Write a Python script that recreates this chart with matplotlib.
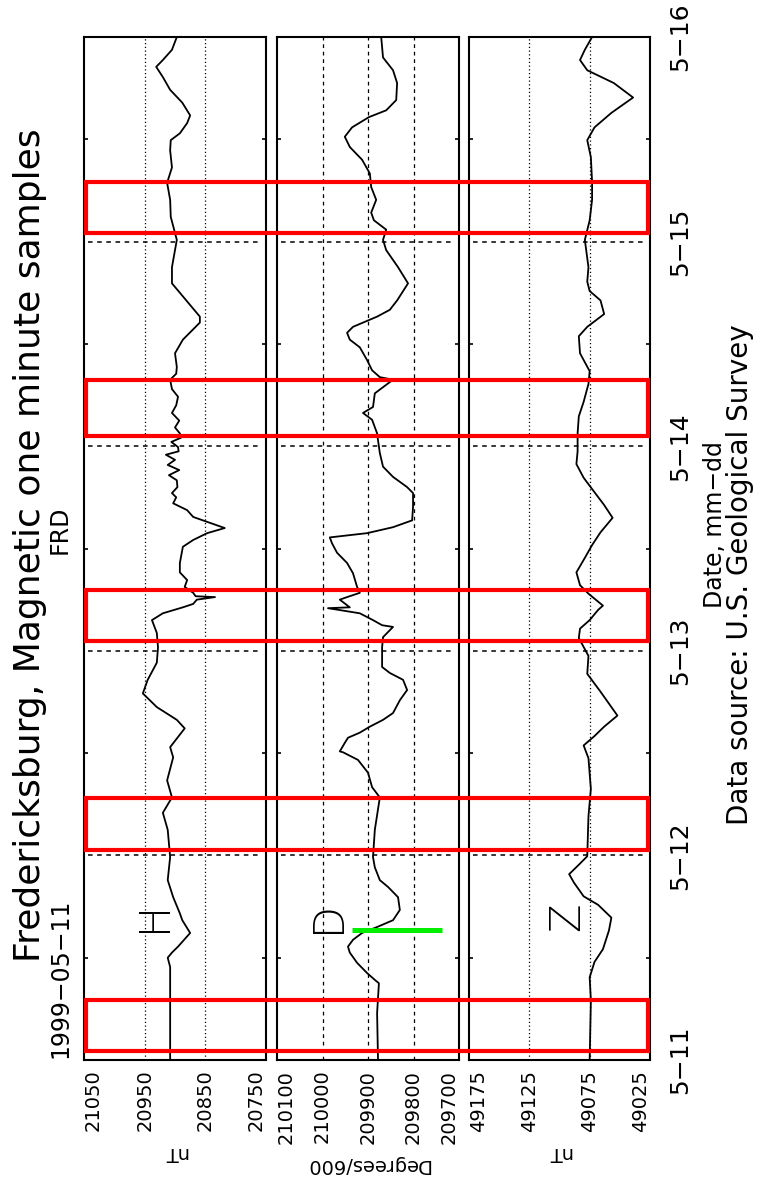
import matplotlib
matplotlib.use("Agg")
import matplotlib.pyplot as plt
from matplotlib.patches import Rectangle
from matplotlib.transforms import blended_transform_factory

# ---------------- data: hours after 1999-05-11 00:00 UT ----------------
h_hours = [0, 7.0, 10.9, 12.0, 12.6, 13.3, 14.9, 16.4, 17.2, 19.1,
           21.1, 23.8, 27.0, 29.0, 30.8, 32.8, 35.5, 36.7, 38.9, 39.9,
           41.4, 43.0, 44.6, 46.6, 48.4, 50.1, 51.6, 52.4, 53.1, 53.5,
           54.0, 54.3, 54.4, 54.8, 55.2, 55.5, 56.3, 57.2, 58.3, 60.2,
           61.0, 61.8, 62.4, 63.0, 63.7, 64.5, 65.3, 66.0, 66.5, 67.2,
           68.0, 68.6, 69.2, 69.8, 70.4, 71.0, 71.4, 71.9, 72.5, 73.0,
           73.5, 74.2, 75.0, 75.9, 76.8, 77.8, 78.7, 79.8, 80.5, 81.3,
           82.9, 84.5, 86.5, 87.2, 88.3, 90.0, 91.1, 93.0, 96.2, 98.9,
           100.9, 102.9, 104.7, 106.7, 107.9, 108.7, 109.9, 110.8, 112.3, 113.8,
           115.3, 116.5, 117.3, 118.5, 120]
h_nt = [20908, 20908, 20908, 20912, 20905, 20895, 20875, 20888, 20892, 20903,
        20912, 20908, 20912, 20920, 20905, 20913, 20903, 20908, 20884, 20897,
        20930, 20953, 20945, 20930, 20928, 20930, 20938, 20920, 20887, 20870,
        20864, 20834, 20866, 20870, 20878, 20884, 20880, 20892, 20892, 20887,
        20870, 20847, 20818, 20842, 20870, 20880, 20903, 20898, 20905, 20896,
        20897, 20910, 20893, 20912, 20900, 20915, 20894, 20895, 20906, 20890,
        20892, 20900, 20893, 20905, 20898, 20895, 20905, 20908, 20898, 20897,
        20900, 20887, 20859, 20859, 20872, 20892, 20905, 20905, 20897, 20907,
        20908, 20913, 20905, 20908, 20907, 20892, 20880, 20875, 20888, 20908,
        20920, 20931, 20920, 20905, 20897]

d_hours = [0, 5.5, 9.0, 9.4, 10.2, 11.4, 12.6, 13.3, 14.1, 14.9,
           15.6, 16.4, 17.6, 19.1, 20.3, 21.1, 22.6, 23.8, 27.0, 30.8,
           32.0, 33.7, 35.2, 36.1, 36.2, 37.2, 37.8, 38.4, 39.1, 39.9,
           40.7, 42.2, 43.4, 44.6, 45.4, 46.1, 48.4, 49.6, 50.8, 51.0,
           51.6, 52.4, 53.0, 53.1, 54.0, 54.3, 54.8, 55.5, 57.1, 58.3,
           59.5, 60.6, 61.3, 61.8, 62.5, 63.3, 64.9, 66.5, 67.2, 68.4,
           69.6, 71.2, 72.7, 73.5, 75.1, 75.9, 76.6, 78.2, 79.8, 80.1,
           80.9, 82.1, 83.6, 84.5, 85.3, 86.0, 87.2, 88.0, 89.1, 91.1,
           93.0, 95.0, 96.2, 97.4, 98.5, 99.4, 100.9, 102.4, 104.0, 105.6,
           107.1, 108.3, 109.4, 110.6, 111.4, 112.6, 114.6, 116.1, 117.6, 120]
d_deg600 = [209878, 209880, 209876, 209885, 209902, 209924, 209940, 209944, 209933, 209913,
            209880, 209845, 209830, 209834, 209856, 209874, 209885, 209889, 209885, 209874,
            209891, 209900, 209922, 209955, 209962, 209951, 209944, 209918, 209896, 209867,
            209845, 209830, 209814, 209823, 209852, 209869, 209869, 209867, 209845, 209869,
            209889, 209918, 209988, 209940, 209962, 209946, 209918, 209924, 209933, 209946,
            209968, 209979, 209984, 209902, 209845, 209803, 209801, 209801, 209814, 209845,
            209867, 209874, 209878, 209880, 209891, 209911, 209889, 209885, 209845, 209874,
            209891, 209902, 209918, 209940, 209946, 209933, 209880, 209852, 209836, 209812,
            209834, 209860, 209867, 209860, 209887, 209893, 209882, 209893, 209896, 209913,
            209940, 209951, 209935, 209898, 209860, 209838, 209836, 209845, 209867, 209871]

z_hours = [0, 7.0, 9.7, 11.5, 13.0, 15.2, 16.7, 18.2, 19.2, 20.8,
           21.8, 22.9, 23.9, 28.6, 31.8, 35.4, 36.9, 38.0, 39.1, 40.4,
           41.6, 43.2, 45.3, 47.4, 49.5, 50.6, 51.6, 52.8, 53.3, 54.0,
           54.7, 55.7, 57.2, 58.9, 60.4, 61.9, 63.6, 65.1, 66.6, 68.3,
           69.9, 71.4, 73.5, 75.5, 77.2, 79.3, 80.8, 82.9, 84.9, 86.0,
           87.5, 89.1, 90.2, 91.3, 93.0, 96.2, 98.5, 100.9, 103.0, 105.9,
           107.9, 109.4, 111.1, 112.9, 114.6, 116.1, 117.3, 118.5, 120]
z_nt = [49075, 49074, 49075, 49071, 49064, 49059, 49057, 49068, 49080, 49088,
        49092, 49084, 49077, 49076, 49074, 49076, 49080, 49071, 49063, 49052,
        49058, 49066, 49077, 49076, 49084, 49083, 49075, 49068, 49064, 49070,
        49076, 49083, 49086, 49079, 49073, 49066, 49056, 49063, 49071, 49080,
        49086, 49085, 49085, 49084, 49080, 49076, 49075, 49083, 49084, 49077,
        49063, 49066, 49075, 49077, 49076, 49079, 49075, 49073, 49073, 49074,
        49077, 49071, 49057, 49039, 49055, 49077, 49083, 49079, 49073]

day_hours = [0, 24, 48, 72, 96, 120]
day_labels = ["5\u221211", "5\u221212", "5\u221213", "5\u221214", "5\u221215", "5\u221216"]
h_ticks = [21050, 20950, 20850, 20750]
d_ticks = [210100, 210000, 209900, 209800, 209700]
z_ticks = [49175, 49125, 49075, 49025]

# annotation overlays drawn on top of the chart
highlight_spans = [(1.0, 7.0), (24.6, 30.7), (49.1, 55.1), (73.2, 79.8), (97.0, 103.0)]
green_mark_hour = 15.25
green_mark_d = (209935, 209737)

W, H = 757, 1196
fig = plt.figure(figsize=(W / 100, H / 100), dpi=100)


def px_axes(x0, x1, y0=37, y1=1060):
    return fig.add_axes([x0 / W, 1 - y1 / H, (x1 - x0) / W, (y1 - y0) / H])


def setup_panel(ax, hours, vals, ticks, grid_vals, grid_style, letter, letter_val, unit):
    ax.plot(vals, hours, color="black", lw=1.3)
    ax.set_ylim(0, 120)
    ax.set_xlim(ticks[0], ticks[-1])
    ax.set_xticks(ticks)
    labels = ax.set_xticklabels([str(t) for t in ticks], rotation=90, fontsize=14)
    labels[0].set_ha("left")
    labels[-1].set_ha("right")
    ax.tick_params(axis="x", length=0, pad=7)
    ax.set_yticks(day_hours)
    ax.set_yticklabels([])
    ax.tick_params(axis="y", which="major", length=0)
    ax.set_yticks(range(12, 120, 24), minor=True)
    ax.tick_params(axis="y", which="minor", direction="in", length=3, width=1.2,
                   left=True, right=True)
    for g in grid_vals:
        ax.axvline(g, color="black", lw=0.9, linestyle=grid_style)
    for d in day_hours[1:-1]:
        ax.axhline(d, color="black", lw=1.1, linestyle=(0, (3, 3)), xmin=0.02, xmax=0.98)
    ax.text(letter_val, 16.8, letter, rotation=90, fontsize=30, fontweight="light",
            ha="center", va="center")
    ax.set_xlabel(unit, rotation=180, fontsize=14, labelpad=8)
    for s in ax.spines.values():
        s.set_linewidth(1.5)


ax_h = px_axes(84, 266)
ax_d = px_axes(277, 459)
ax_z = px_axes(469, 650)

setup_panel(ax_h, h_hours, h_nt, h_ticks, [20950, 20850], (0, (1, 2)), "H", 20936, "nT")
setup_panel(ax_d, d_hours, d_deg600, d_ticks, [210000, 209900, 209800], (0, (3, 3)), "D", 209988,
            "Degrees/600")
setup_panel(ax_z, z_hours, z_nt, z_ticks, [49125, 49075], (0, (1, 2)), "Z", 49094, "nT")

# date labels along the right side
ax_z.set_yticklabels(day_labels, rotation=90, va="center", fontsize=18)
ax_z.tick_params(axis="y", which="major", labelright=True, labelleft=False, pad=13)

# titles (the whole chart is rotated a quarter turn)
fig.text(30 / W, 1 - 545 / H, "Fredericksburg, Magnetic one minute samples",
         rotation=90, fontsize=26, ha="center", va="center")
fig.text(60 / W, 1 - 1058 / H, "1999\u221205\u221211", rotation=90, fontsize=17,
         ha="center", va="bottom")
fig.text(60 / W, 1 - 530 / H, "FRD", rotation=90, fontsize=17, ha="center", va="center")
fig.text(715 / W, 1 - 525 / H, "Date, mm\u2212dd", rotation=90, fontsize=17,
         ha="center", va="center")
fig.text(740 / W, 1 - 575 / H, "Data source: U.S. Geological Survey", rotation=90,
         fontsize=20, ha="center", va="center")

# red highlight boxes across all three panels
tr = blended_transform_factory(fig.transFigure, ax_h.transData)
x_left = ax_h.get_position().x0 + 1.5 / W
x_right = ax_z.get_position().x1 - 2 / W
for t0, t1 in highlight_spans:
    fig.add_artist(Rectangle((x_left, t0), x_right - x_left, t1 - t0, transform=tr,
                             fill=False, edgecolor="#ff0000", lw=3, clip_on=False, zorder=5))

# green marker in the D panel
ax_d.plot(list(green_mark_d), [green_mark_hour, green_mark_hour], color="#00ee00", lw=3.6,
          solid_capstyle="butt", clip_on=False, zorder=6)

fig.savefig("out.png", dpi=100)
